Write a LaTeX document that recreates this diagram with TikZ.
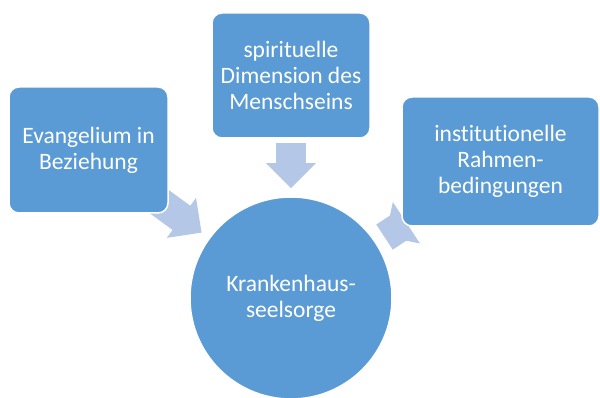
\documentclass[tikz,border=0pt]{standalone}
\usepackage{fontspec}
\setmainfont[Ligatures=NoCommon]{Carlito}
\usetikzlibrary{arrows.meta,backgrounds}
\definecolor{boxblue}{HTML}{5B9BD5}
\definecolor{arrowblue}{HTML}{B4C7E7}

\begin{document}
\begin{tikzpicture}[x=1pt,y=-1pt]

	% Define basic styles
	\tikzset{
		topic/.style={
			rectangle, draw=white, line width=1.5pt, rounded corners=10pt,
			fill=boxblue, text=white, align=center, inner sep=2pt,
			font=\fontsize{23.5}{26}\selectfont
		},
		hub/.style={
			circle, draw=white, line width=1.5pt, minimum size=202pt,
			fill=boxblue, text=white, align=center,
			font=\fontsize{23.5}{26}\selectfont
		},
		flow/.style={
			draw=arrowblue, line width=30pt,
			-{Triangle[width=48pt,length=25pt]}
		}
	}

	\useasboundingbox (0,0) rectangle (600,398);

	% Nodes
	\node[hub] (care) at (291,298) {Krankenhaus-\\seelsorge};
	\node[topic, minimum width=159pt, minimum height=126pt] (gospel) at (88.5,150) {Evangelium in\\Beziehung};
	\node[topic, minimum width=158pt, minimum height=125pt] (spirit) at (291,75.5) {spirituelle\\Dimension des\\Menschseins};
	\node[topic, minimum width=197pt, minimum height=129pt] (institution) at (500.5,161.5) {institutionelle\\Rahmen-\\bedingungen};

	% Arrows
	\begin{scope}[on background layer]
		\draw[flow, shorten <=-20pt, shorten >=9pt] (gospel) -- (care);
		\draw[flow, shorten <=4pt, shorten >=8pt] (spirit) -- (care);
		\draw[flow, shorten <=-20pt, shorten >=11pt] (institution) -- (care);
	\end{scope}

\end{tikzpicture}
\end{document}
